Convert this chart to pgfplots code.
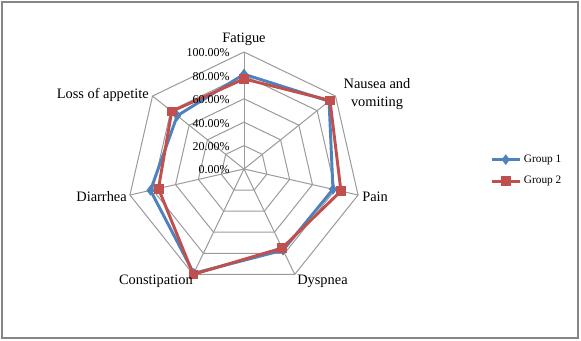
\documentclass[border=0pt]{standalone}
\usepackage{pgfplots}
\pgfplotsset{compat=1.18}
\usepgfplotslibrary{polar}
\usepackage{fontspec}
\setmainfont{Liberation Serif}
\definecolor{g1}{HTML}{4F81BD}
\definecolor{g2}{HTML}{C0504D}
\definecolor{gridc}{HTML}{9A9A9A}
\definecolor{framec}{HTML}{868686}
\begin{document}
\begin{tikzpicture}[x=0.75pt,y=0.75pt]
\path[use as bounding box] (0,0) rectangle (581,341);
\draw[framec, line width=0.9pt] (2,3) rectangle (578,339);
\begin{polaraxis}[
  at={(183pt,129pt)}, anchor=center,
  width=175.5pt, height=175.5pt, scale only axis,
  hide axis, ymin=0, ymax=100, clip=false,
  legend style={draw=none, fill=none, at={(1.534,0.494)}, anchor=west,
    font=\fontsize{8.5}{10}\selectfont, row sep=5pt},
  legend cell align=left,
  legend image code/.code={\draw[mark repeat=2,mark phase=2,#1] plot coordinates {(0cm,0cm) (0.37cm,0cm) (0.74cm,0cm)};},
]
\pgfplotsinvokeforeach{20,40,60,80,100}{
  \addplot[gridc, line width=0.75pt, no markers, forget plot] coordinates {(90,#1) (38.5714,#1) (-12.8571,#1) (-64.2857,#1) (-115.7143,#1) (-167.1429,#1) (141.4286,#1) (90,#1)};
}
\pgfplotsinvokeforeach{90,38.5714,-12.8571,-64.2857,-115.7143,-167.1429,141.4286}{
  \addplot[gridc, line width=0.75pt, no markers, forget plot] coordinates {(#1,0) (#1,100)};
}
% Group 1
\addplot[g1, line width=2.2pt, mark=diamond*, mark size=3.6pt, mark options={solid, fill=g1, line width=0.5pt}] coordinates {
  (90,81) (38.5714,93) (-12.8571,78) (-64.2857,77) (-115.7143,99) (-167.1429,82) (141.4286,73) (90,81)};
\addlegendentry{Group 1}
% Group 2
\addplot[g2, line width=2.2pt, mark=square*, mark size=3.3pt, mark options={solid, fill=g2, line width=0.5pt}] coordinates {
  (90,77) (38.5714,94) (-12.8571,85) (-64.2857,75) (-115.7143,100) (-167.1429,75) (141.4286,79) (90,77)};
\addlegendentry{Group 2}
\end{polaraxis}
% radial tick labels
\begin{scope}[every node/.style={anchor=east, inner sep=0pt, font=\fontsize{9}{10}\selectfont}]
\node at (230,288) {100.00\%};
\node at (230,264.6) {80.00\%};
\node at (230,241.2) {60.00\%};
\node at (230,217.8) {40.00\%};
\node at (230,194.4) {20.00\%};
\node at (230,171) {0.00\%};
\end{scope}
% category labels
\begin{scope}[every node/.style={inner sep=0pt, font=\fontsize{10.8}{13}\selectfont}]
\node[anchor=center] at (244,302) {Fatigue};
\node[anchor=center, align=center] at (377,247) {Nausea and\\vomiting};
\node[anchor=west] at (362,144) {Pain};
\node[anchor=west] at (297,60) {Dyspnea};
\node[anchor=east] at (193,60) {Constipation};
\node[anchor=east] at (127,144) {Diarrhea};
\node[anchor=east] at (149,246) {Loss of appetite};
\end{scope}
\end{tikzpicture}
\end{document}
